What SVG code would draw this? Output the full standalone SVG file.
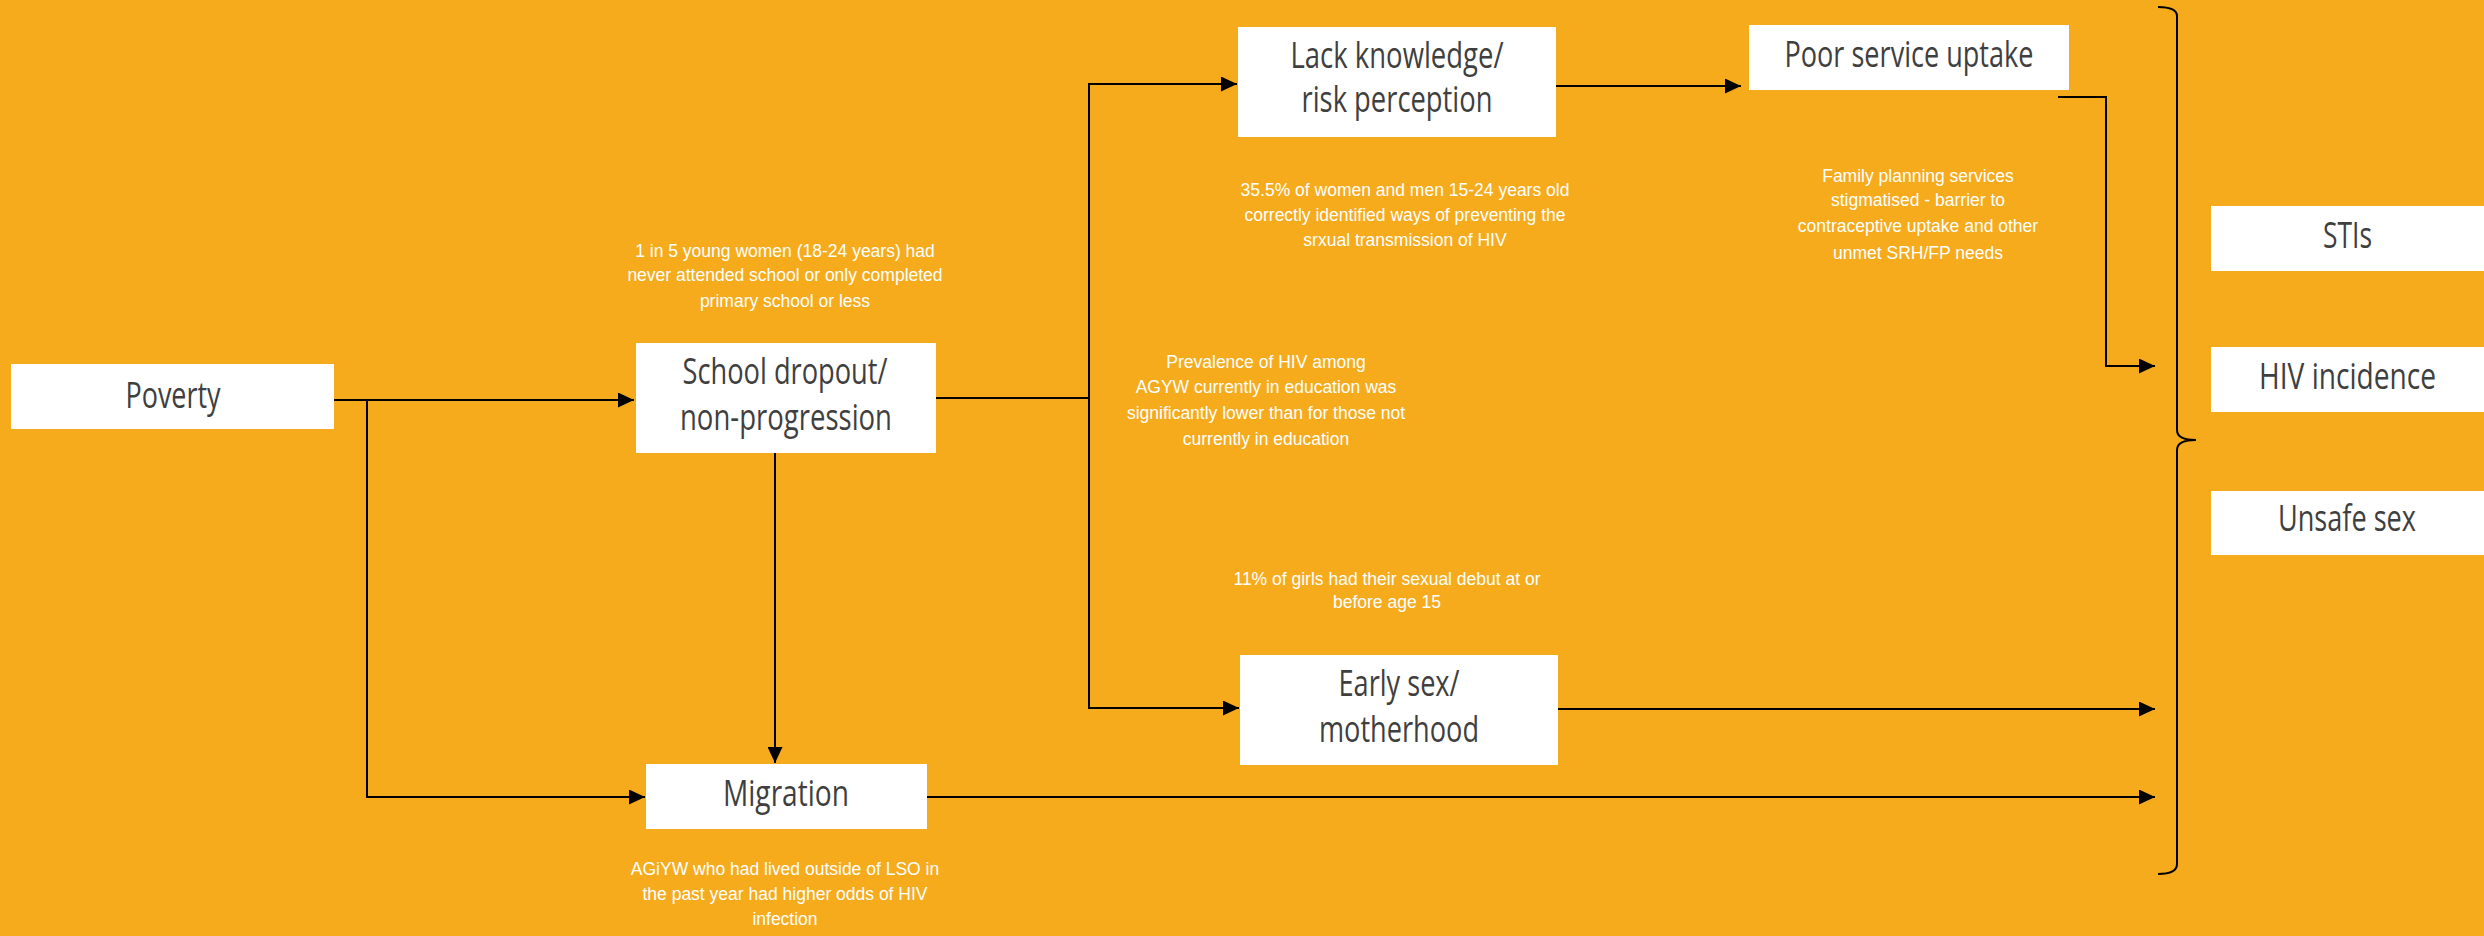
<svg xmlns="http://www.w3.org/2000/svg" width="2484" height="936" viewBox="0 0 2484 936">
<defs>
<style>
.box{fill:#FFFFFF;}
.bt{font-family:"Open Sans","Liberation Sans",sans-serif;font-size:37px;fill:#3F3F3F;text-anchor:middle;}
.note{font-family:"Liberation Sans",Arial,sans-serif;font-size:17.5px;fill:#FFFFFF;text-anchor:middle;}
.ln{fill:none;stroke:#000000;stroke-width:2;}
</style>
<marker id="arr" markerUnits="userSpaceOnUse" markerWidth="16" markerHeight="15" refX="16" refY="7.5" orient="auto">
<path d="M0,0 L16,7.5 L0,15 Z" fill="#000000"/>
</marker>
</defs>
<rect x="0" y="0" width="2484" height="936" fill="#F6AB1D"/>

<g id="connectors">
<path class="ln" d="M334,400 H634" marker-end="url(#arr)"/>
<path class="ln" d="M367,400 V797 H645" marker-end="url(#arr)"/>
<path class="ln" d="M775,453 V763" marker-end="url(#arr)"/>
<path class="ln" d="M936,398 H1089 V84 H1237" marker-end="url(#arr)"/>
<path class="ln" d="M1089,398 V708 H1239" marker-end="url(#arr)"/>
<path class="ln" d="M1556,86 H1741" marker-end="url(#arr)"/>
<path class="ln" d="M2058,97 H2106 V366 H2155" marker-end="url(#arr)"/>
<path class="ln" d="M1558,709 H2155" marker-end="url(#arr)"/>
<path class="ln" d="M927,797 H2155" marker-end="url(#arr)"/>
</g>

<g id="bracket">
<path class="ln" d="M2158,7 Q2177,7 2177,16 V430 Q2177,440 2196,440 Q2177,440 2177,450 V864 Q2177,874 2158,874"/>
</g>

<g id="poverty">
<rect class="box" x="11" y="364" width="323" height="65"/>
<text class="bt" x="173" y="408" textLength="95" lengthAdjust="spacingAndGlyphs">Poverty</text>
</g>

<g id="school-dropout">
<rect class="box" x="636" y="343" width="300" height="110"/>
<text class="bt" x="785" y="384" textLength="205" lengthAdjust="spacingAndGlyphs">School dropout/</text>
<text class="bt" x="786" y="430" textLength="212" lengthAdjust="spacingAndGlyphs">non-progression</text>
</g>

<g id="migration">
<rect class="box" x="646" y="764" width="281" height="65"/>
<text class="bt" x="786" y="806" textLength="126" lengthAdjust="spacingAndGlyphs">Migration</text>
</g>

<g id="lack-knowledge">
<rect class="box" x="1238" y="27" width="318" height="110"/>
<text class="bt" x="1397" y="68" textLength="213" lengthAdjust="spacingAndGlyphs">Lack knowledge/</text>
<text class="bt" x="1397" y="112" textLength="191" lengthAdjust="spacingAndGlyphs">risk perception</text>
</g>

<g id="poor-service">
<rect class="box" x="1749" y="25" width="320" height="65"/>
<text class="bt" x="1909" y="67" textLength="249" lengthAdjust="spacingAndGlyphs">Poor service uptake</text>
</g>

<g id="early-sex">
<rect class="box" x="1240" y="655" width="318" height="110"/>
<text class="bt" x="1399" y="696" textLength="121" lengthAdjust="spacingAndGlyphs">Early sex/</text>
<text class="bt" x="1399" y="742" textLength="160" lengthAdjust="spacingAndGlyphs">motherhood</text>
</g>

<g id="stis">
<rect class="box" x="2211" y="206" width="273" height="65"/>
<text class="bt" x="2347.5" y="248" textLength="49" lengthAdjust="spacingAndGlyphs">STIs</text>
</g>

<g id="hiv-incidence">
<rect class="box" x="2211" y="347" width="273" height="65"/>
<text class="bt" x="2347.5" y="389" textLength="177" lengthAdjust="spacingAndGlyphs">HIV incidence</text>
</g>

<g id="unsafe-sex">
<rect class="box" x="2211" y="491" width="273" height="64"/>
<text class="bt" x="2347" y="531" textLength="138" lengthAdjust="spacingAndGlyphs">Unsafe sex</text>
</g>

<g id="notes">
<text class="note" x="785" y="257">1 in 5 young women (18-24 years) had</text>
<text class="note" x="785" y="281">never attended school or only completed</text>
<text class="note" x="785" y="307">primary school or less</text>

<text class="note" x="1405" y="196">35.5% of women and men 15-24 years old</text>
<text class="note" x="1405" y="221">correctly identified ways of preventing the</text>
<text class="note" x="1405" y="246">srxual transmission of HIV</text>

<text class="note" x="1918" y="182">Family planning services</text>
<text class="note" x="1918" y="206">stigmatised - barrier to</text>
<text class="note" x="1918" y="232">contraceptive uptake and other</text>
<text class="note" x="1918" y="259">unmet SRH/FP needs</text>

<text class="note" x="1266" y="368">Prevalence of HIV among</text>
<text class="note" x="1266" y="393">AGYW currently in education was</text>
<text class="note" x="1266" y="419">significantly lower than for those not</text>
<text class="note" x="1266" y="445">currently in education</text>

<text class="note" x="1387" y="585">11% of girls had their sexual debut at or</text>
<text class="note" x="1387" y="608">before age 15</text>

<text class="note" x="785" y="875">AGiYW who had lived outside of LSO in</text>
<text class="note" x="785" y="900">the past year had higher odds of HIV</text>
<text class="note" x="785" y="925">infection</text>
</g>
</svg>
